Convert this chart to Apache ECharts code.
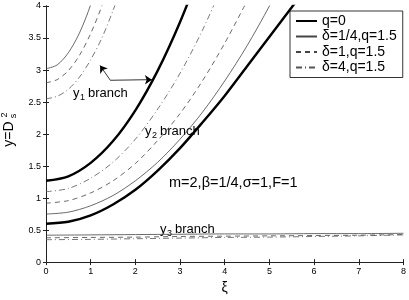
<!DOCTYPE html>
<html><head><meta charset="utf-8">
<script src="https://cdn.jsdelivr.net/npm/echarts@6/dist/echarts.min.js"></script>
<style>html,body{margin:0;padding:0;background:#fff}#c{width:409px;height:300px}</style>
</head><body><div id="c"></div>
<script>
// x tick labels / ranges
const xTicks = [0,1,2,3,4,5,6,7,8];
const yTicks = [0,0.5,1,1.5,2,2.5,3,3.5,4];
// ξ grids
const xiA = [0,0.5,1,1.5,2,2.5,3,3.5,4,4.5,5,5.5,6];
const xiB = [0,0.25,0.5,0.75,1,1.25,1.5,1.75];
const xiC = [0,1,2,3,4,5,6,7,8];
// q=0 branches
const q0_y1 = [1.27,1.34,1.55,1.89,2.37,2.99,3.75,4.64];
const q0_y2 = [0.60,0.63,0.73,0.90,1.13,1.43,1.78,2.18,2.60,3.06,3.52,3.98,4.45];
// δ=1/4, q=1.5
const d14_y1 = [3.02,3.08,3.27,3.58,4.02,4.6];
const d14_y2 = [0.75,0.78,0.88,1.04,1.27,1.56,1.92,2.34,2.83,3.38,4.0,4.68];
const d14_y3 = [0.42,0.425,0.43,0.435,0.44,0.44,0.445,0.445,0.45];
// δ=1, q=1.5
const d1_y1 = [2.80,2.85,2.99,3.23,3.57,4.0,4.53];
const d1_y2 = [0.92,0.96,1.08,1.27,1.54,1.90,2.32,2.83,3.42,4.08];
const d1_y3 = [0.38,0.385,0.39,0.40,0.405,0.41,0.415,0.42,0.43];
// δ=4, q=1.5
const d4_y1 = [2.55,2.59,2.70,2.89,3.16,3.50,3.93,4.42];
const d4_y2 = [1.10,1.15,1.31,1.56,1.92,2.39,2.95,3.62,4.40];
const d4_y3 = [0.35,0.355,0.365,0.375,0.385,0.39,0.40,0.41,0.425];
// arrows (data coords)
const arrowStart = [1.44,2.84];
const arrowEnds = [[1.21,3.07],[2.37,2.85]];

const names = ['q=0','δ=1/4,q=1.5','δ=1,q=1.5','δ=4,q=1.5'];
const FONT = 'Liberation Sans';
const pair = (xs, ys) => ys.map((v,i)=>[xs[i], v]);
const styles = {
  'q=0': {color:'#000', width:2.4, type:'solid'},
  'δ=1/4,q=1.5': {color:'#444', width:0.8, type:'solid'},
  'δ=1,q=1.5': {color:'#444', width:0.8, type:[5,4]},
  'δ=4,q=1.5': {color:'#555', width:0.8, type:[6,3,1,3]}
};
function mk(name, xs, ys){
  const s = styles[name];
  return {type:'line', name, data: pair(xs,ys), smooth:0.3, symbol:'none', clip:true,
    lineStyle:{color:s.color, width:s.width, type:s.type}, itemStyle:{color:s.color}, z:3, silent:true};
}
const series = [
  mk('q=0', xiA, q0_y1), mk('q=0', xiA, q0_y2),
  mk('δ=1/4,q=1.5', xiB, d14_y1), mk('δ=1/4,q=1.5', xiA, d14_y2), mk('δ=1/4,q=1.5', xiC, d14_y3),
  mk('δ=1,q=1.5', xiB, d1_y1), mk('δ=1,q=1.5', xiA, d1_y2), mk('δ=1,q=1.5', xiC, d1_y3),
  mk('δ=4,q=1.5', xiB, d4_y1), mk('δ=4,q=1.5', xiA, d4_y2), mk('δ=4,q=1.5', xiC, d4_y3),
  {type:'lines', coordinateSystem:'cartesian2d', symbol:['none','arrow'], symbolSize:7,
   lineStyle:{color:'#000', width:0.8, opacity:1}, silent:true, z:4,
   data: arrowEnds.map(e=>({coords:[arrowStart, e]}))}
];
const axBase = {type:'value', axisLine:{show:true, lineStyle:{color:'#222', width:1}},
  axisTick:{show:true, inside:true, length:3, lineStyle:{color:'#222'}}, splitLine:{show:false}};
const chart = echarts.init(document.getElementById('c'), null, {renderer:'canvas'});
chart.setOption({
  animation:false,
  backgroundColor:'#fff',
  grid:{left:46, right:5, top:6, bottom:28, containLabel:false},
  xAxis:[
    Object.assign({}, axBase, {min:xTicks[0], max:xTicks[xTicks.length-1], interval:1, position:'bottom',
      axisLabel:{fontSize:9, color:'#000', margin:5, fontFamily:FONT},
      name:'ξ', nameLocation:'middle', nameGap:18, nameTextStyle:{fontSize:14, color:'#000', fontFamily:FONT}}),
    Object.assign({}, axBase, {min:xTicks[0], max:xTicks[xTicks.length-1], interval:1, position:'top', axisLabel:{show:false}})
  ],
  yAxis:[
    Object.assign({}, axBase, {min:yTicks[0], max:yTicks[yTicks.length-1], interval:0.5, position:'left',
      axisLabel:{fontSize:9, color:'#000', margin:5, fontFamily:FONT}}),
    Object.assign({}, axBase, {min:yTicks[0], max:yTicks[yTicks.length-1], interval:0.5, position:'right', axisLabel:{show:false}})
  ],
  legend:{data:names, orient:'vertical', left:290, top:11, itemWidth:21, itemHeight:13, itemGap:1.5,
    padding:[3,6,3,5], backgroundColor:'#fff', borderColor:'#000', borderWidth:0.8, borderRadius:0,
    itemStyle:{opacity:0, borderWidth:0},
    textStyle:{fontSize:14, color:'#000', fontFamily:FONT, lineHeight:13}, selectedMode:false, z:10},
  series,
  graphic:[
    {type:'text', x:9, y:134, rotation:Math.PI/2, style:{text:'y=D', fontSize:14, fontFamily:FONT, fill:'#000', align:'center', verticalAlign:'middle'}},
    {type:'text', x:5, y:115, rotation:Math.PI/2, style:{text:'2', fontSize:9, fontFamily:FONT, fill:'#000', align:'center', verticalAlign:'middle'}},
    {type:'text', x:14, y:116, rotation:Math.PI/2, style:{text:'s', fontSize:9, fontFamily:FONT, fill:'#000', align:'center', verticalAlign:'middle'}},
    // y1 branch
    {type:'text', x:73, y:93, style:{text:'y', fontSize:13, fontFamily:FONT, fill:'#000', verticalAlign:'middle'}},
    {type:'text', x:80, y:98, style:{text:'1', fontSize:9, fontFamily:FONT, fill:'#000', verticalAlign:'middle'}},
    {type:'text', x:88, y:93, style:{text:'branch', fontSize:13, fontFamily:FONT, fill:'#000', verticalAlign:'middle'}},
    // y2 branch
    {type:'text', x:145, y:131, style:{text:'y', fontSize:13, fontFamily:FONT, fill:'#000', verticalAlign:'middle'}},
    {type:'text', x:152, y:136, style:{text:'2', fontSize:9, fontFamily:FONT, fill:'#000', verticalAlign:'middle'}},
    {type:'text', x:160, y:131, style:{text:'branch', fontSize:13, fontFamily:FONT, fill:'#000', verticalAlign:'middle'}},
    // y3 branch
    {type:'text', x:160, y:229, style:{text:'y', fontSize:13, fontFamily:FONT, fill:'#000', verticalAlign:'middle'}},
    {type:'text', x:167, y:234, style:{text:'3', fontSize:9, fontFamily:FONT, fill:'#000', verticalAlign:'middle'}},
    {type:'text', x:175, y:229, style:{text:'branch', fontSize:13, fontFamily:FONT, fill:'#000', verticalAlign:'middle'}},
    {type:'text', x:169, y:183, style:{text:'m=2,β=1/4,σ=1,F=1', fontSize:14.5, fontFamily:FONT, fill:'#000', verticalAlign:'middle'}}
  ]
});
</script></body></html>
